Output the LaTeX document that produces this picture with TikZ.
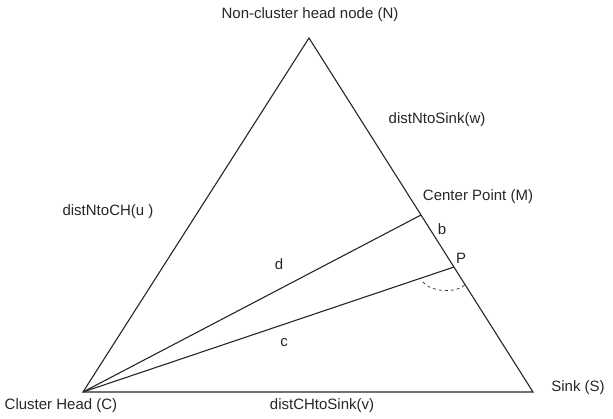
\documentclass[tikz,border=0pt]{standalone}
\usepackage{fontspec}
\setmainfont{Liberation Sans}
\begin{document}
\begin{tikzpicture}[x=1pt,y=-1pt,
  edge/.style={draw=black!85, line width=1.1pt},
  lbl/.style={inner sep=0pt, text=black!85, font=\fontsize{15}{18}\selectfont}]
\useasboundingbox (0,0) rectangle (613,419);
\coordinate (C) at (83,392);
\coordinate (N) at (309,38);
\coordinate (S) at (533,392);
\coordinate (M) at (421,215);
\coordinate (P) at (454,267);
\coordinate (a1) at (423,282);
\coordinate (a2) at (466,284);
\draw[edge, line join=miter] (C) -- (N) -- (S) -- cycle;
\draw[edge] (C) -- (M);
\draw[edge] (C) -- (P);
\draw[black!75, line width=0.8pt, dash pattern=on 3pt off 3pt] (a1) .. controls (432,293) and (458,293) .. (a2);
\node[lbl] (nN) at (310,15) {Non-cluster head node (N)};
\node[lbl] (nw) at (437,120) {distNtoSink(w)};
\node[lbl] (nu) at (108,212) {distNtoCH(u )};
\node[lbl] (nM) at (478,197) {Center Point (M)};
\node[lbl] (nb) at (442,229) {b};
\node[lbl] (nP) at (461,258) {P};
\node[lbl] (nd) at (279,264) {d};
\node[lbl] (nc) at (284,343) {c};
\node[lbl] (nC) at (61,406) {Cluster Head (C)};
\node[lbl] (nv) at (322,406) {distCHtoSink(v)};
\node[lbl] (nS) at (578,388) {Sink (S)};
\end{tikzpicture}
\end{document}
